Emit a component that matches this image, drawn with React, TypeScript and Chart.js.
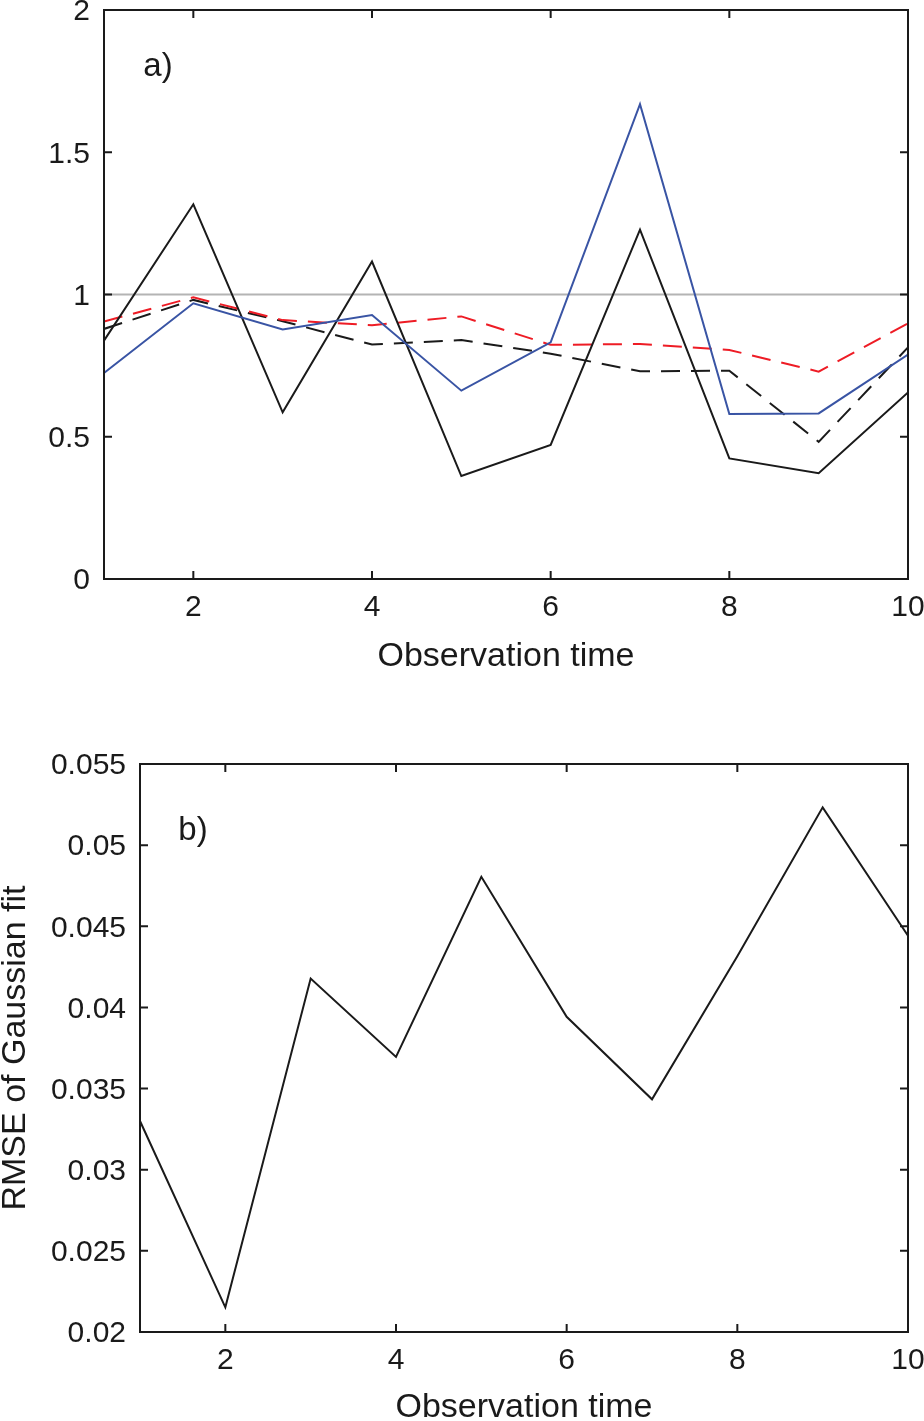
import React, { useEffect, useRef } from 'react';
import { Chart, registerables } from 'chart.js';

Chart.register(...registerables);

const FONT = '"Liberation Sans", Arial, Helvetica, sans-serif';
const INK = '#1a1a1a';
const TICK_LEN = 8;

// panel a) values
const observationTimes = [1, 2, 3, 4, 5, 6, 7, 8, 9, 10];
const solidBlack = [0.838, 1.317, 0.586, 1.116, 0.362, 0.471, 1.228, 0.424, 0.372, 0.656];
const blueSeries = [0.724, 0.969, 0.877, 0.928, 0.662, 0.832, 1.669, 0.58, 0.582, 0.789];
const redDashed = [0.905, 0.99, 0.91, 0.892, 0.923, 0.823, 0.826, 0.805, 0.729, 0.899];
const blackDashed = [0.879, 0.981, 0.906, 0.824, 0.84, 0.792, 0.73, 0.732, 0.482, 0.814];
const referenceTimes = [1, 10];
const referenceLevel = [1, 1];

// panel b) values
const rmseValues = [0.033, 0.02152, 0.04178, 0.03695, 0.04805, 0.03942, 0.03434, 0.04316, 0.05233, 0.04442];

// tick labels
const timeTicks = [2, 4, 6, 8, 10];
const ratioTicks = [0, 0.5, 1, 1.5, 2];
const rmseTicks = [0.02, 0.025, 0.03, 0.035, 0.04, 0.045, 0.05, 0.055];

const toPoints = (xs: number[], ys: number[]) => xs.map((x, i) => ({ x, y: ys[i] }));

// MATLAB-like box with inward ticks on all four sides, plus the panel letter
const boxPlugin = (label: string, dx: number, dy: number) => ({
  id: 'matlabBox',
  afterDatasetsDraw(chart: any) {
    const { ctx, chartArea: a, scales } = chart;
    const xs = scales.x;
    const ys = scales.y;
    ctx.save();
    ctx.strokeStyle = INK;
    ctx.lineWidth = 2;
    ctx.strokeRect(a.left, a.top, a.right - a.left, a.bottom - a.top);
    ctx.beginPath();
    xs.ticks.forEach((t: any) => {
      const px = xs.getPixelForValue(t.value);
      if (px <= a.left + 1 || px >= a.right - 1) return;
      ctx.moveTo(px, a.bottom);
      ctx.lineTo(px, a.bottom - TICK_LEN);
      ctx.moveTo(px, a.top);
      ctx.lineTo(px, a.top + TICK_LEN);
    });
    ys.ticks.forEach((t: any) => {
      const py = ys.getPixelForValue(t.value);
      if (py <= a.top + 1 || py >= a.bottom - 1) return;
      ctx.moveTo(a.left, py);
      ctx.lineTo(a.left + TICK_LEN, py);
      ctx.moveTo(a.right, py);
      ctx.lineTo(a.right - TICK_LEN, py);
    });
    ctx.stroke();
    ctx.fillStyle = INK;
    ctx.font = `33px ${FONT}`;
    ctx.textAlign = 'center';
    ctx.textBaseline = 'middle';
    ctx.fillText(label, a.left + dx, a.top + dy);
    ctx.restore();
  },
});

const xAxis = (axisHeight: number, titlePad: number) => ({
  type: 'linear' as const,
  min: 1,
  max: 10,
  afterBuildTicks: (s: any) => {
    s.ticks = timeTicks.map((v) => ({ value: v }));
  },
  afterFit: (s: any) => {
    s.height = axisHeight;
    s.paddingLeft = 0;
    s.paddingRight = 0;
  },
  grid: { display: false, drawTicks: false },
  border: { display: false },
  ticks: {
    color: INK,
    font: { family: FONT, size: 30 },
    padding: 11,
    maxRotation: 0,
    autoSkip: false,
  },
  title: {
    display: true,
    text: 'Observation time',
    color: INK,
    font: { family: FONT, size: 34 },
    padding: { top: 0, bottom: titlePad },
  },
});

const yAxis = (min: number, max: number, ticks: number[], axisWidth: number, title?: string) => ({
  type: 'linear' as const,
  min,
  max,
  afterBuildTicks: (s: any) => {
    s.ticks = ticks.map((v) => ({ value: v }));
  },
  afterFit: (s: any) => {
    s.width = axisWidth;
    s.paddingTop = 0;
    s.paddingBottom = 0;
  },
  grid: { display: false, drawTicks: false },
  border: { display: false },
  ticks: {
    color: INK,
    font: { family: FONT, size: 30 },
    padding: 14,
    labelOffset: 2,
    autoSkip: false,
    callback: (v: any) => String(v),
  },
  title: {
    display: !!title,
    text: title || '',
    color: INK,
    font: { family: FONT, size: 34, lineHeight: 1 },
    padding: { top: -1, bottom: 0 },
  },
});

const lineStyle = { pointRadius: 0, borderWidth: 2, tension: 0, fill: false };

function useChart(ref: React.RefObject<HTMLCanvasElement | null>, makeConfig: () => any) {
  useEffect(() => {
    if (!ref.current) return;
    const chart = new Chart(ref.current, makeConfig());
    return () => chart.destroy();
  }, []);
}

function PanelA() {
  const canvasRef = useRef<HTMLCanvasElement>(null);
  useChart(canvasRef, () => ({
    type: 'line',
    data: {
      datasets: [
        { ...lineStyle, data: toPoints(referenceTimes, referenceLevel), borderColor: '#b4b4b4', order: 5 },
        { ...lineStyle, data: toPoints(observationTimes, blackDashed), borderColor: INK, borderDash: [19, 11], order: 4 },
        { ...lineStyle, data: toPoints(observationTimes, redDashed), borderColor: '#ee1c25', borderDash: [19, 11], order: 3 },
        { ...lineStyle, data: toPoints(observationTimes, solidBlack), borderColor: INK, order: 2 },
        { ...lineStyle, data: toPoints(observationTimes, blueSeries), borderColor: '#3954a4', order: 1 },
      ],
    },
    options: {
      responsive: false,
      animation: false,
      layout: { padding: { left: 0, right: 16, top: 10, bottom: 0 } },
      plugins: { legend: { display: false }, tooltip: { enabled: false } },
      scales: {
        x: xAxis(121, 23),
        y: yAxis(0, 2, ratioTicks, 104),
      },
    },
    plugins: [boxPlugin('a)', 54, 57)],
  }));
  return <canvas ref={canvasRef} width={924} height={700} style={{ display: 'block' }} />;
}

function PanelB() {
  const canvasRef = useRef<HTMLCanvasElement>(null);
  useChart(canvasRef, () => ({
    type: 'line',
    data: {
      datasets: [{ ...lineStyle, data: toPoints(observationTimes, rmseValues), borderColor: INK }],
    },
    options: {
      responsive: false,
      animation: false,
      layout: { padding: { left: 0, right: 16, top: 64, bottom: 0 } },
      plugins: { legend: { display: false }, tooltip: { enabled: false } },
      scales: {
        x: xAxis(108, 12),
        y: yAxis(0.02, 0.055, rmseTicks, 140, 'RMSE of Gaussian fit'),
      },
    },
    plugins: [boxPlugin('b)', 53, 67)],
  }));
  return <canvas ref={canvasRef} width={924} height={740} style={{ display: 'block' }} />;
}

export default function App() {
  return (
    <div style={{ position: 'absolute', left: 0, top: 0, width: 924, background: '#fff' }}>
      <PanelA />
      <PanelB />
    </div>
  );
}
